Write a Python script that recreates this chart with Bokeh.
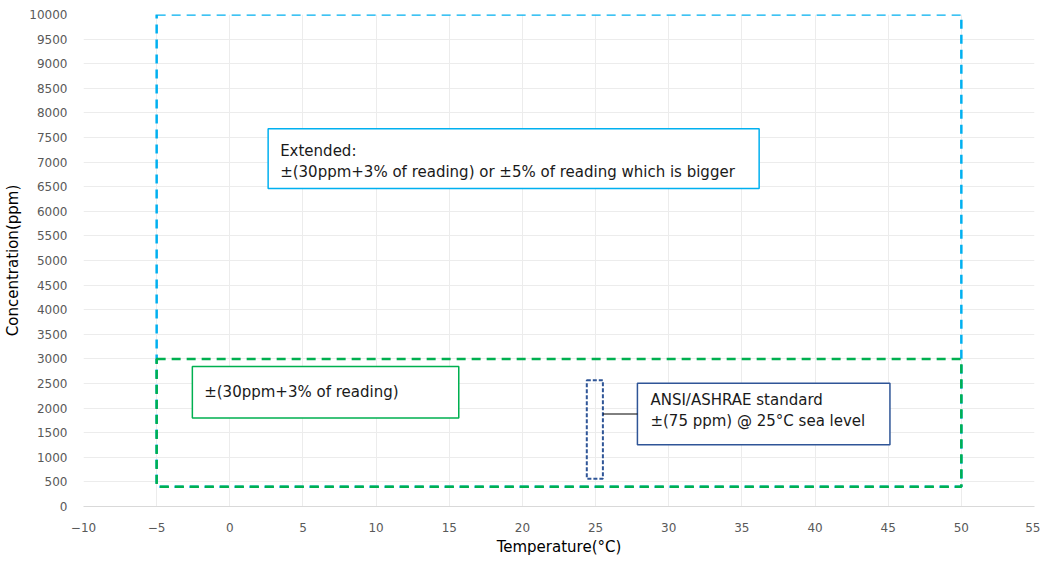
from bokeh.plotting import figure
from bokeh.models import Range1d, FixedTicker, Label
from bokeh.core.properties import value
from bokeh.embed import file_html
from bokeh.resources import INLINE

# ---- data ----
ext_temp = [-5, 50]          # extended range temperature (°C)
ext_conc = [400, 10000]      # extended range concentration (ppm)
std_temp = [-5, 50]          # standard range temperature
std_conc = [400, 3000]       # standard range concentration
ansi_temp = [24.4, 25.5]     # ANSI/ASHRAE reference box
ansi_conc = [565, 2565]

x_ticks = list(range(-10, 56, 5))
y_ticks = list(range(0, 10001, 500))

ext_text = ["Extended:", "±(30ppm+3% of reading) or ±5% of reading which is bigger"]
std_text = ["±(30ppm+3% of reading)"]
ansi_text = ["ANSI/ASHRAE standard", "±(75 ppm) @ 25°C sea level"]
top_text = "-5 ~ 50°C, 400 ~ 10000ppm"

FONT = "DejaVu Sans"

p = figure(width=1040, height=558, x_range=Range1d(-10, 55), y_range=Range1d(0, 10000),
           output_backend="svg", toolbar_location=None)
p.min_border_left = 83
p.min_border_right = 6
p.min_border_top = 14
p.min_border_bottom = 40
p.outline_line_color = None
p.background_fill_color = "white"

p.xaxis.ticker = FixedTicker(ticks=x_ticks)
p.yaxis.ticker = FixedTicker(ticks=y_ticks)
for ax in (p.xaxis[0], p.yaxis[0]):
    ax.major_tick_line_color = None
    ax.minor_tick_line_color = None
    ax.major_label_text_font = FONT
    ax.major_label_text_font_size = "12px"
    ax.major_label_text_color = "#595959"
    ax.axis_label_text_font = FONT
    ax.axis_label_text_font_size = "15px"
    ax.axis_label_text_font_style = "normal"
    ax.axis_label_text_color = "#000000"
p.xaxis.axis_line_color = "#d9d9d9"
p.yaxis.axis_line_color = None
p.xaxis.major_label_standoff = 10
p.yaxis.major_label_standoff = 10
p.xaxis.axis_label = "Temperature(°C)"
p.yaxis.axis_label = "Concentration(ppm)"
p.xaxis.axis_label_standoff = 3
p.yaxis.axis_label_standoff = 4
p.xgrid.grid_line_color = "#ececec"
p.ygrid.grid_line_color = "#ececec"

# ---- range rectangles ----
p.quad(left=[ext_temp[0]], right=[ext_temp[1]], bottom=[ext_conc[0]], top=[ext_conc[1]],
       fill_alpha=0, line_color="#00b0f0", line_width=2.5, line_dash="9 6")
p.quad(left=[std_temp[0]], right=[std_temp[1]], bottom=[std_conc[0]], top=[std_conc[1]],
       fill_alpha=0, line_color="#00b050", line_width=2.5, line_dash="9 6")
p.quad(left=[ansi_temp[0]], right=[ansi_temp[1]], bottom=[ansi_conc[0]], top=[ansi_conc[1]],
       fill_alpha=0, line_color="#2f5597", line_width=2, line_dash="4 2")

# ---- callout boxes ----
p.quad(left=[2.62], right=[36.18], bottom=[6465], top=[7677],
       fill_color="white", line_color="#00b0f0", line_width=1.5)
p.quad(left=[-2.56], right=[15.65], bottom=[1798], top=[2848],
       fill_color="white", line_color="#00b050", line_width=1.5)
p.quad(left=[27.86], right=[45.12], bottom=[1253], top=[2505],
       fill_color="white", line_color="#2f5597", line_width=1.5)
p.segment(x0=[ansi_temp[1]], y0=[1880], x1=[27.86], y1=[1880], line_color="black", line_width=1)

p.text(x=[3.44, 3.44], y=[7232, 6808], text=ext_text, text_font=value(FONT),
       text_font_size="15px", text_baseline="middle", text_color="#1a1a1a")
p.text(x=[-1.75], y=[2323], text=std_text, text_font=value(FONT),
       text_font_size="15px", text_baseline="middle", text_color="#1a1a1a")
p.text(x=[28.75, 28.75], y=[2162, 1737], text=ansi_text, text_font=value(FONT),
       text_font_size="15px", text_baseline="middle", text_color="#1a1a1a")

p.add_layout(Label(x=22.6, y=10000, y_offset=2, text=top_text, text_align="center",
                   text_baseline="bottom", text_font=FONT, text_font_size="10px",
                   text_color="#1a1a1a"))

open("out.html", "w").write(file_html(p, INLINE))
